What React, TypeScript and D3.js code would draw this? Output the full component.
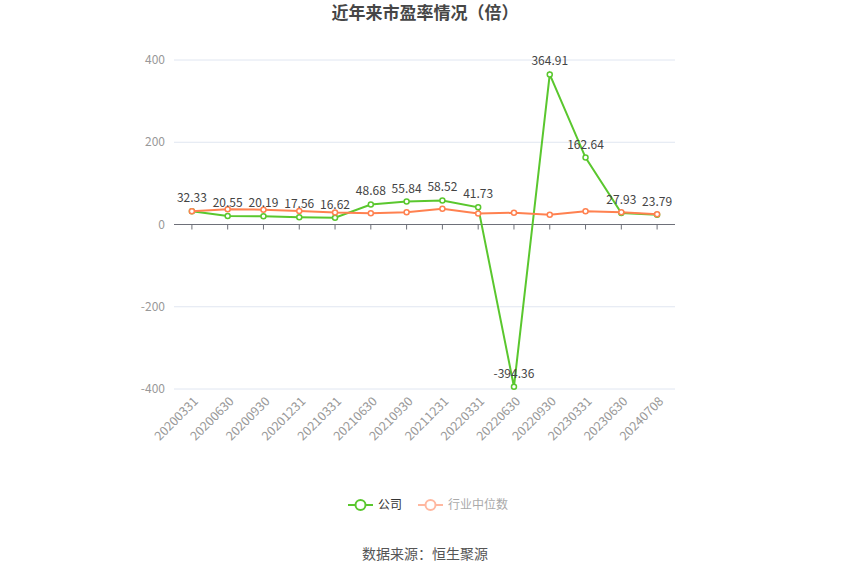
import React, { useEffect, useRef } from 'react';
import * as d3 from 'd3';

const categories = ['20200331', '20200630', '20200930', '20201231', '20210331', '20210630', '20210930', '20211231', '20220331', '20220630', '20220930', '20230331', '20230630', '20240708'];
const companyPE = [32.33, 20.55, 20.19, 17.56, 16.62, 48.68, 55.84, 58.52, 41.73, -394.36, 364.91, 162.64, 27.93, 23.79];
const industryPE = [32, 37, 36, 33, 29, 27.5, 30, 38, 27, 28.5, 23.5, 32.5, 30, 25];
const yTicks = [-400, -200, 0, 200, 400];

const FONT = '"Noto Sans CJK SC", "Noto Sans", sans-serif';

export default function App() {
  const svgRef = useRef<SVGSVGElement>(null);

  useEffect(() => {
    if (!svgRef.current) return;
    const width = 850;
    const svg = d3.select(svgRef.current);
    svg.selectAll('*').remove();

    const x = d3.scaleBand<string>().domain(categories).range([174, 675]);
    const y = d3.scaleLinear().domain([-400, 400]).range([389, 60]);
    const cx = (d: string) => (x(d) as number) + x.bandwidth() / 2;

    // title
    svg.append('text')
      .attr('x', width / 2).attr('y', 19)
      .attr('text-anchor', 'middle')
      .attr('font-size', 17).attr('font-weight', 'bold')
      .attr('fill', '#464646').style('font-family', FONT)
      .text('近年来市盈率情况（倍）');

    // grid
    svg.append('g').selectAll('line').data(yTicks.filter(t => t !== 0)).join('line')
      .attr('x1', 174).attr('x2', 675)
      .attr('y1', d => y(d)).attr('y2', d => y(d))
      .attr('stroke', '#e0e6f1').attr('stroke-width', 1);

    svg.append('g').selectAll('text').data(yTicks).join('text')
      .attr('x', 165).attr('y', d => y(d)).attr('dy', '0.35em')
      .attr('text-anchor', 'end').attr('font-size', 12)
      .attr('fill', '#999').style('font-family', FONT)
      .text(d => d);

    // x axis at zero
    svg.append('line')
      .attr('x1', 174).attr('x2', 675).attr('y1', y(0)).attr('y2', y(0))
      .attr('stroke', '#6e7079');
    svg.append('g').selectAll('line').data(categories).join('line')
      .attr('x1', cx).attr('x2', cx).attr('y1', y(0)).attr('y2', y(0) + 5)
      .attr('stroke', '#6e7079');

    svg.append('g').selectAll('text').data(categories).join('text')
      .attr('transform', d => `translate(${cx(d) + 4},${y(-400) + 10}) rotate(-45)`)
      .attr('text-anchor', 'end').attr('dy', '0.35em')
      .attr('font-size', 12.5).attr('fill', '#999').style('font-family', FONT)
      .text(d => d);

    const line = d3.line<number>()
      .x((_, i) => cx(categories[i]))
      .y(d => y(d));

    const series = [
      { values: companyPE, color: '#5ac72e' },
      { values: industryPE, color: '#ff8150' },
    ];

    series.forEach(s => {
      svg.append('path').datum(s.values)
        .attr('d', line).attr('fill', 'none')
        .attr('stroke', s.color).attr('stroke-width', 2);
      svg.append('g').selectAll('circle').data(s.values).join('circle')
        .attr('cx', (_, i) => cx(categories[i])).attr('cy', d => y(d))
        .attr('r', 2.5).attr('fill', '#fff')
        .attr('stroke', s.color).attr('stroke-width', 1.5);
    });

    // labels for company
    svg.append('g').selectAll('text').data(companyPE).join('text')
      .attr('x', (_, i) => cx(categories[i])).attr('y', d => y(d) - 9)
      .attr('text-anchor', 'middle').attr('font-size', 12)
      .attr('fill', '#444').style('font-family', FONT)
      .text(d => d.toFixed(2));

    // legend
    const legend = [
      { name: '公司', color: '#5ac72e', text: '#333', x: 348 },
      { name: '行业中位数', color: '#ffb8a0', text: '#aaa', x: 418 },
    ];
    legend.forEach(l => {
      const g = svg.append('g').attr('transform', `translate(${l.x},505)`);
      g.append('line').attr('x1', 0).attr('x2', 25).attr('stroke', l.color).attr('stroke-width', 2);
      g.append('circle').attr('cx', 12.5).attr('r', 5).attr('fill', '#fff')
        .attr('stroke', l.color).attr('stroke-width', 2);
      g.append('text').attr('x', 30).attr('dy', '0.35em')
        .attr('font-size', 12).attr('fill', l.text).style('font-family', FONT)
        .text(l.name);
    });

    svg.append('text')
      .attr('x', width / 2).attr('y', 554).attr('dy', '0.35em')
      .attr('text-anchor', 'middle').attr('font-size', 14)
      .attr('fill', '#555').style('font-family', FONT)
      .text('数据来源：恒生聚源');
  }, []);

  return (
    <svg ref={svgRef} width={850} height={575} viewBox="0 0 850 575"
      style={{ position: 'absolute', left: 0, top: 0, background: '#fff' }} />
  );
}
